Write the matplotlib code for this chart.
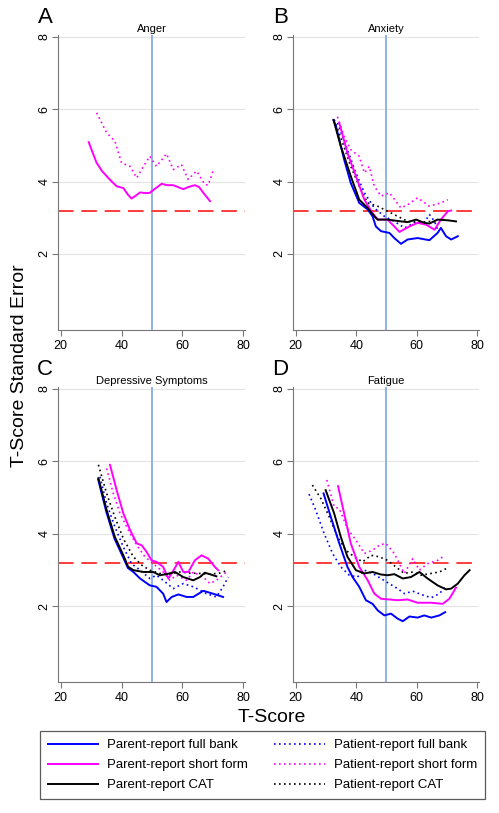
import matplotlib
matplotlib.use("Agg")
import matplotlib.pyplot as plt
from matplotlib.lines import Line2D

plt.rcParams['font.family'] = ['Liberation Sans', 'DejaVu Sans']

BLUE = '#0000ff'
MAG = '#ff00ff'
BLK = '#000000'

# ---- data: (x, y) per series per panel ----
titles = ['Anger', 'Anxiety', 'Depressive Symptoms', 'Fatigue']
letters = ['A', 'B', 'C', 'D']

# A: Anger (only short forms)
a_par_sf_x = [29.2, 30.5, 31.8, 33.5, 35.1, 36.8, 38.4, 40.6, 42, 43.3, 44.5, 46.1, 48, 49.3, 51, 53.2, 55, 57, 58.5, 60.3, 62, 64.1, 65.5, 66.9, 69.1]
a_par_sf_y = [5.09, 4.8, 4.52, 4.3, 4.15, 4.0, 3.87, 3.82, 3.65, 3.53, 3.6, 3.7, 3.68, 3.69, 3.8, 3.94, 3.9, 3.9, 3.85, 3.79, 3.85, 3.9, 3.85, 3.69, 3.46]
a_pat_sf_x = [31.8, 35.1, 37.8, 40.0, 42.8, 45.0, 47.2, 49.3, 51.5, 54.8, 57.0, 59.7, 61.9, 64.7, 67.4, 68.5, 70.1]
a_pat_sf_y = [5.9, 5.35, 5.12, 4.52, 4.42, 4.1, 4.42, 4.7, 4.42, 4.77, 4.33, 4.47, 4.06, 4.29, 3.92, 3.9, 4.29]

# B: Anxiety
b_par_fb_x = [32.5, 33.3, 36, 38.2, 41, 43.8, 45.4, 46.5, 48.2, 51, 52.6, 54.8, 57, 60.3, 64.2, 66.9, 68, 69.7, 71.4, 73.6]
b_par_fb_y = [5.7, 5.53, 4.61, 3.96, 3.41, 3.23, 3.04, 2.76, 2.63, 2.58, 2.44, 2.28, 2.4, 2.44, 2.38, 2.58, 2.72, 2.49, 2.4, 2.49]
b_par_sf_x = [34.4, 37.1, 39.9, 42.7, 45.4, 47.1, 50.4, 54.3, 57.6, 60.3, 63.1, 65.9, 68, 70.3, 71.4]
b_par_sf_y = [5.62, 4.79, 4.15, 3.5, 3.13, 2.95, 2.95, 2.61, 2.76, 2.86, 2.81, 2.67, 2.95, 3.18, 3.2]
b_par_cat_x = [32.5, 34.9, 38.2, 41, 43.8, 46, 47.1, 50.4, 54.8, 57, 59.8, 62.5, 64.2, 66.9, 70.3, 73]
b_par_cat_y = [5.7, 4.98, 4.15, 3.5, 3.27, 3.04, 2.95, 2.95, 2.9, 2.88, 2.95, 2.86, 2.84, 2.95, 2.93, 2.9]
b_pat_fb_x = [33.8, 37.1, 39.9, 42.7, 46, 49.3, 52.6, 56, 59.2, 62.5, 64.2, 65.9, 66.9]
b_pat_fb_y = [5.62, 4.88, 4.24, 3.69, 3.27, 3.04, 2.9, 2.72, 2.86, 2.86, 3.09, 2.9, 2.67]
b_pat_sf_x = [33.8, 36, 38.2, 41, 42.7, 44.3, 46, 48.2, 51, 54.8, 57, 60.3, 64.2, 68, 70.3]
b_pat_sf_y = [5.79, 5.25, 4.88, 4.7, 4.24, 4.42, 3.87, 3.6, 3.69, 3.27, 3.36, 3.55, 3.32, 3.41, 3.5]
b_pat_cat_x = [32.7, 35.5, 38.2, 41, 43.8, 47.1, 50.4, 53.7, 57, 61.4, 64.7, 66.9]
b_pat_cat_y = [5.71, 5.07, 4.42, 3.87, 3.41, 3.32, 3.18, 3.04, 2.9, 2.88, 2.9, 2.88]

# C: Depressive Symptoms
c_par_fb_x = [32.3, 35.0, 37.7, 40.5, 42.1, 43.9, 46.1, 49.3, 51.5, 53.7, 54.8, 56.5, 58.7, 61.4, 63.6, 66.9, 70.1, 73.4]
c_par_fb_y = [5.5, 4.6, 3.86, 3.35, 3.05, 2.94, 2.76, 2.57, 2.53, 2.34, 2.11, 2.25, 2.32, 2.25, 2.25, 2.42, 2.34, 2.25]
c_par_sf_x = [36.2, 38.4, 40.6, 42.8, 45, 46.6, 48.2, 49.9, 51.5, 53.7, 55.4, 56.5, 58.7, 60.3, 62, 64.1, 66.3, 68.5, 70.7, 71.8]
c_par_sf_y = [5.9, 5.2, 4.56, 4.1, 3.73, 3.68, 3.5, 3.26, 3.22, 3.08, 2.76, 2.9, 3.22, 2.94, 2.94, 3.26, 3.4, 3.31, 3.08, 2.99]
c_par_cat_x = [32.4, 35.1, 37.8, 40.6, 42.2, 43.9, 47.2, 50.4, 52.6, 54.8, 57.6, 60.3, 63.6, 65.8, 67.4, 70.1, 71.2]
c_par_cat_y = [5.53, 4.65, 3.91, 3.4, 3.08, 2.99, 2.94, 2.94, 2.85, 2.88, 2.94, 2.8, 2.71, 2.8, 2.92, 2.85, 2.82]
c_pat_fb_x = [32.9, 35.1, 37.8, 40.6, 43.3, 46.1, 49.3, 51.5, 53.7, 57, 60.3, 63.6, 68, 71.2, 73.4, 75.1]
c_pat_fb_y = [5.57, 4.83, 4.19, 3.63, 3.17, 2.99, 2.76, 2.85, 2.71, 2.48, 2.62, 2.53, 2.34, 2.25, 2.53, 2.8]
c_pat_sf_x = [35.1, 37.3, 39.5, 42.2, 45, 47.7, 50.4, 53.7, 55.9, 58.1, 61.4, 63.6, 66.9, 69.1, 71.2, 74.5]
c_pat_sf_y = [5.8, 5.11, 4.56, 4.1, 3.68, 3.36, 3.17, 2.94, 2.71, 2.85, 2.71, 2.94, 2.8, 2.62, 2.71, 2.94]
c_pat_cat_x = [32.4, 35.1, 37.8, 40.6, 43.9, 46.6, 49.3, 52.6, 55.9, 59.2, 62.5, 65.8, 69.1, 72.3, 75.1]
c_pat_cat_y = [5.9, 5.11, 4.46, 3.86, 3.36, 3.13, 2.99, 2.9, 2.88, 2.94, 2.91, 2.9, 2.88, 2.91, 2.99]

# D: Fatigue
d_par_fb_x = [29.2, 31.6, 34.4, 37.1, 38.8, 41, 43.2, 45.4, 47.1, 49.3, 51.5, 53.7, 55.4, 57.6, 60.3, 62.5, 64.8, 67.5, 69.4]
d_par_fb_y = [5.11, 4.46, 3.73, 3.08, 2.8, 2.53, 2.16, 2.06, 1.88, 1.74, 1.79, 1.65, 1.58, 1.71, 1.68, 1.74, 1.68, 1.74, 1.83]
d_par_sf_x = [34, 36, 38.2, 41, 43.8, 46, 48.2, 50.9, 53.7, 57, 60.3, 64.8, 68.6, 70.8, 73]
d_par_sf_y = [5.31, 4.56, 3.73, 3.08, 2.71, 2.34, 2.2, 2.18, 2.16, 2.18, 2.09, 2.09, 2.06, 2.2, 2.51]
d_par_cat_x = [29.9, 32.7, 34.9, 37.1, 39.9, 42.7, 45.4, 48.2, 50.4, 52.6, 55.4, 58.1, 60.9, 63.6, 66.9, 69.7, 71.4, 73.6, 75.8, 77.5]
d_par_cat_y = [5.2, 4.56, 3.91, 3.36, 2.99, 2.9, 2.94, 2.87, 2.85, 2.88, 2.76, 2.8, 2.94, 2.76, 2.57, 2.46, 2.48, 2.62, 2.85, 2.99]
d_pat_fb_x = [24.4, 26.6, 29.4, 32.2, 34.9, 37.7, 40.4, 42.7, 45.4, 48.2, 50.9, 53.7, 56, 58.7, 61.4, 64.8, 67.5, 69.4]
d_pat_fb_y = [5.09, 4.65, 4.0, 3.45, 3.08, 2.85, 2.8, 2.99, 2.9, 2.76, 2.62, 2.48, 2.34, 2.41, 2.32, 2.23, 2.34, 2.52]
d_pat_sf_x = [30.3, 32.7, 34.4, 37.1, 39.9, 42.7, 45.4, 47.6, 49.8, 52.6, 55.9, 58.7, 60.9, 63.6, 66.9, 69.4]
d_pat_sf_y = [5.48, 4.74, 4.69, 4.14, 3.82, 3.45, 3.54, 3.68, 3.73, 3.45, 2.9, 3.31, 2.99, 3.17, 3.26, 3.4]
d_pat_cat_x = [25.5, 28.3, 31.1, 33.8, 36.6, 39.3, 42.1, 44.9, 47.6, 50.4, 53.1, 55.9, 58.7, 61.4, 64.8, 67.5, 69.7]
d_pat_cat_y = [5.34, 4.97, 4.46, 3.91, 3.54, 3.36, 3.22, 3.4, 3.36, 3.26, 3.08, 2.9, 2.94, 2.85, 2.9, 2.94, 3.03]

# series drawing order: patient dotted first, parent solid on top
panels = [
    [(a_pat_sf_x, a_pat_sf_y, MAG, ':'), (a_par_sf_x, a_par_sf_y, MAG, '-')],
    [(b_pat_fb_x, b_pat_fb_y, BLUE, ':'), (b_pat_sf_x, b_pat_sf_y, MAG, ':'), (b_pat_cat_x, b_pat_cat_y, BLK, ':'),
     (b_par_fb_x, b_par_fb_y, BLUE, '-'), (b_par_sf_x, b_par_sf_y, MAG, '-'), (b_par_cat_x, b_par_cat_y, BLK, '-')],
    [(c_pat_fb_x, c_pat_fb_y, BLUE, ':'), (c_pat_sf_x, c_pat_sf_y, MAG, ':'), (c_pat_cat_x, c_pat_cat_y, BLK, ':'),
     (c_par_fb_x, c_par_fb_y, BLUE, '-'), (c_par_sf_x, c_par_sf_y, MAG, '-'), (c_par_cat_x, c_par_cat_y, BLK, '-')],
    [(d_pat_fb_x, d_pat_fb_y, BLUE, ':'), (d_pat_sf_x, d_pat_sf_y, MAG, ':'), (d_pat_cat_x, d_pat_cat_y, BLK, ':'),
     (d_par_fb_x, d_par_fb_y, BLUE, '-'), (d_par_sf_x, d_par_sf_y, MAG, '-'), (d_par_cat_x, d_par_cat_y, BLK, '-')],
]

legend_labels = ['Parent-report full bank', 'Parent-report short form', 'Parent-report CAT',
                 'Patient-report full bank', 'Patient-report short form', 'Patient-report CAT']
legend_colors = [BLUE, MAG, BLK, BLUE, MAG, BLK]
legend_styles = ['-', '-', '-', ':', ':', ':']

fig = plt.figure(figsize=(4.99, 8.13), dpi=100)
rects = [[0.1162, 0.5941, 0.3747, 0.3629], [0.5872, 0.5941, 0.3727, 0.3629],
         [0.1162, 0.1611, 0.3747, 0.3629], [0.5872, 0.1611, 0.3727, 0.3629]]

for i, rect in enumerate(rects):
    ax = fig.add_axes(rect)
    ax.set_xlim(19.1, 80.6)
    ax.set_ylim(-0.1, 8.05)
    for y in [2, 4, 6, 8]:
        ax.axhline(y, color='#e4e4e4', lw=0.8, zorder=0)
    ax.axvline(50, color='#86aee6', lw=1.3, zorder=1)
    ax.axhline(3.2, color='#ff3b3b', lw=1.4, ls=(0, (8, 4)), zorder=1)
    for xs, ys, c, ls in panels[i]:
        if ls == ':':
            ax.plot(xs, ys, color=c, lw=1.2, ls=(0, (1, 2)), zorder=2)
        else:
            ax.plot(xs, ys, color=c, lw=1.4, zorder=3)
    ax.set_xticks([20, 40, 60, 80])
    ax.set_yticks([2, 4, 6, 8])
    ax.tick_params(axis='both', direction='out', length=4, color='#777777', labelsize=9)
    ax.tick_params(axis='y', pad=1.5)
    for lab in ax.get_yticklabels():
        lab.set_rotation(90)
        lab.set_va('center')
    for s in ['top', 'right']:
        ax.spines[s].set_visible(False)
    for s in ['left', 'bottom']:
        ax.spines[s].set_color('#777777')
    ax.set_title(titles[i], fontsize=8, pad=2)
    ax.text(-0.025, 1.095, letters[i], transform=ax.transAxes, fontsize=16, ha='right', va='top')

fig.text(0.04, 0.55, 'T-Score Standard Error', rotation=90, fontsize=14, ha='center', va='center')
fig.text(0.545, 0.117, 'T-Score', fontsize=14, ha='center', va='center')

handles = [Line2D([], [], color=c, lw=1.4 if s == '-' else 1.2, ls='-' if s == '-' else (0, (1, 2)))
           for c, s in zip(legend_colors, legend_styles)]
leg = fig.legend(handles, legend_labels, ncol=2, fontsize=9.5, loc='upper left',
                 bbox_to_anchor=(0.08, 0.1009), borderaxespad=0,
                 handlelength=3.8, handletextpad=0.7, columnspacing=2.0,
                 labelspacing=0.6, borderpad=0.6,
                 fancybox=False, edgecolor='#333333')
leg.get_frame().set_linewidth(0.9)

fig.savefig('out.png', dpi=100)
